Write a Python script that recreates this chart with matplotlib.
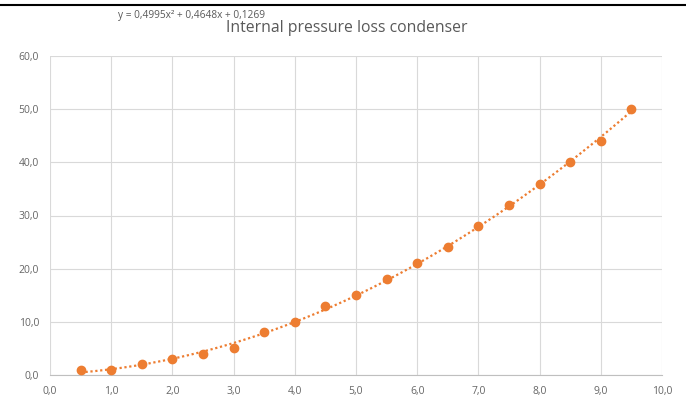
import numpy as np
import matplotlib
matplotlib.use('Agg')
import matplotlib.pyplot as plt
from matplotlib.lines import Line2D

# data
x_vals = [0.5, 1.0, 1.5, 2.0, 2.5, 3.0, 3.5, 4.0, 4.5, 5.0, 5.5, 6.0, 6.5, 7.0, 7.5, 8.0, 8.5, 9.0, 9.5]
y_vals = [1, 1, 2, 3, 4, 5, 8, 10, 13, 15, 18, 21, 24, 28, 32, 36, 40, 44, 50]
x_ticks = [0, 1, 2, 3, 4, 5, 6, 7, 8, 9, 10]
y_ticks = [0, 10, 20, 30, 40, 50, 60]
title = 'Internal pressure loss condenser'
equation = 'y = 0,4995x² + 0,4648x + 0,1269'

plt.rcParams['font.family'] = ['Open Sans', 'DejaVu Sans']
orange = '#ED7D31'
txt = '#595959'

fig = plt.figure(figsize=(6.86, 4.0), dpi=100)
ax = fig.add_axes([0.073, 0.0625, 0.892, 0.7975])

# polynomial trendline (order 2) fitted to the points
coef = np.polyfit(x_vals, y_vals, 2)
xs = np.linspace(min(x_vals), max(x_vals), 200)
ax.plot(xs, np.polyval(coef, xs), linestyle=(0, (1, 1.2)), color=orange, linewidth=1.6, zorder=2)
ax.plot(x_vals, y_vals, 'o', color=orange, markersize=6, zorder=3)

ax.set_xlim(0, 10)
ax.set_ylim(0, 60)
ax.set_xticks(x_ticks)
ax.set_yticks(y_ticks)
ax.set_xticklabels([f'{v:.1f}'.replace('.', ',') for v in x_ticks])
ax.set_yticklabels([f'{v:.1f}'.replace('.', ',') for v in y_ticks])
ax.tick_params(axis='both', length=0, labelsize=7.5, colors='#666666', pad=8)
ax.grid(True, color='#D9D9D9', linewidth=0.8)
ax.set_axisbelow(True)
for s in ['top', 'right', 'left']:
    ax.spines[s].set_visible(False)
ax.spines['bottom'].set_color('#BFBFBF')

fig.text(0.506, 0.93, title, ha='center', va='center', fontsize=11.3, color=txt)
fig.text(0.172, 0.962, equation, ha='left', va='center', fontsize=7.3, color=txt)

# black rule at top of the page
fig.add_artist(Line2D([0, 1], [0.988, 0.988], color='black', linewidth=1.5, transform=fig.transFigure))

fig.savefig('out.png', dpi=100)
